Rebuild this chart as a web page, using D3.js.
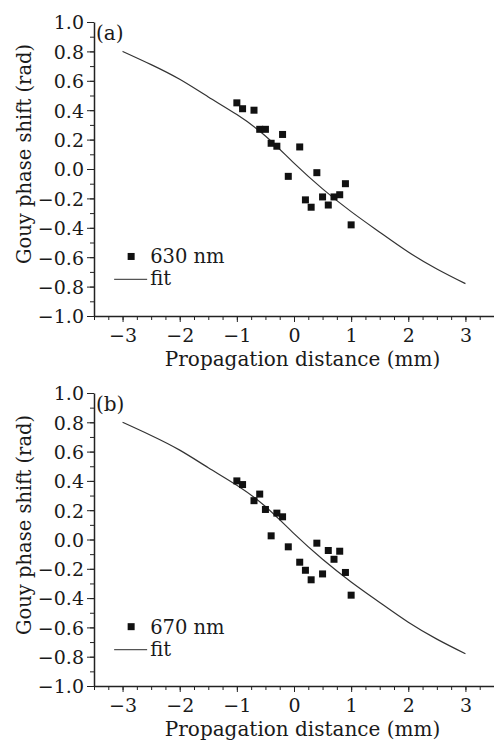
<!DOCTYPE html>
<html>
<head>
<meta charset="utf-8">
<script src="https://cdn.jsdelivr.net/npm/d3@7"></script>
<style>
  body { margin: 0; background: #fff; }
  text { font-family: "DejaVu Serif", "Liberation Serif", serif; fill: #1a1a1a; }
  .axis path, .axis line { stroke: #222; }
</style>
</head>
<body>
<svg id="chart" width="494" height="740"></svg>
<script>
// tick values
const xTicks = [-3, -2, -1, 0, 1, 2, 3];
const yTicks = [-1.0, -0.8, -0.6, -0.4, -0.2, 0.0, 0.2, 0.4, 0.6, 0.8, 1.0];

// panel (a) 630 nm measurements
const xA = [-1.0, -0.9, -0.7, -0.6, -0.5, -0.4, -0.3, -0.2, -0.1, 0.1, 0.2, 0.3, 0.4, 0.5, 0.6, 0.7, 0.8, 0.9, 1.0];
const yA = [0.45, 0.41, 0.40, 0.27, 0.27, 0.175, 0.155, 0.235, -0.05, 0.15, -0.21, -0.26, -0.025, -0.19, -0.245, -0.19, -0.175, -0.10, -0.38];

// panel (b) 670 nm measurements
const xB = [-1.0, -0.9, -0.7, -0.6, -0.5, -0.4, -0.3, -0.2, -0.1, 0.1, 0.2, 0.3, 0.4, 0.5, 0.6, 0.7, 0.8, 0.9, 1.0];
const yB = [0.40, 0.375, 0.265, 0.31, 0.205, 0.025, 0.18, 0.155, -0.05, -0.155, -0.21, -0.275, -0.025, -0.235, -0.075, -0.135, -0.08, -0.225, -0.38];

// fit curve
const fitX = [-3, -2.5, -2, -1.5, -1, -0.5, 0, 0.5, 1, 1.5, 2, 2.5, 3];
const fitY = [0.80, 0.71, 0.61, 0.49, 0.37, 0.225, 0.04, -0.135, -0.29, -0.43, -0.565, -0.68, -0.78];

const svg = d3.select("#chart");

function drawPanel(top, height, xs, ys, tag, legendName) {
    const left = 94, width = 400;
    const g = svg.append("g").attr("transform", `translate(${left}, ${top})`);

    const x = d3.scaleLinear().domain([-3.5, 3.5]).range([0, width]);
    const y = d3.scaleLinear().domain([-1, 1]).range([height, 0]);

    const fmt = d => (d < 0 ? "\u2212" : "") + Math.abs(d).toFixed(1);

    // minor ticks
    g.append("g")
        .attr("class", "axis")
        .call(d3.axisLeft(y).tickValues(d3.range(-10, 11).map(d => d / 10)).tickSize(4).tickFormat("").tickSizeOuter(0))
        .call(s => s.select(".domain").remove());
    g.append("g")
        .attr("class", "axis")
        .attr("transform", `translate(0, ${height})`)
        .call(d3.axisBottom(x).tickValues(d3.range(-14, 15).map(d => d / 4)).tickSize(4).tickFormat("").tickSizeOuter(0))
        .call(s => s.select(".domain").remove());

    // major ticks
    const ya = g.append("g")
        .attr("class", "axis")
        .call(d3.axisLeft(y).tickValues(yTicks).tickSize(7).tickPadding(3).tickFormat(fmt).tickSizeOuter(0));
    ya.select(".domain").attr("stroke-width", 1.5);
    ya.selectAll("text").style("font-size", "19px").attr("dy", "0.36em");

    const xa = g.append("g")
        .attr("class", "axis")
        .attr("transform", `translate(0, ${height})`)
        .call(d3.axisBottom(x).tickValues(xTicks).tickSize(6).tickPadding(7).tickFormat(d => (d < 0 ? "\u2212" : "") + Math.abs(d)).tickSizeOuter(0));
    xa.select(".domain").attr("stroke-width", 1.5);
    xa.selectAll("text").style("font-size", "19px");

    // axis titles
    g.append("text")
        .attr("x", (x(0.15)))
        .attr("y", height + 50)
        .attr("text-anchor", "middle")
        .style("font-size", "20px")
        .text("Propagation distance (mm)");

    g.append("text")
        .attr("transform", `translate(${31 - left}, ${154 - 22}) rotate(-90)`)
        .attr("text-anchor", "middle")
        .style("font-size", "19.5px")
        .text("Gouy phase shift (rad)");

    // panel tag
    g.append("text")
        .attr("x", 2)
        .attr("y", 18)
        .style("font-size", "20px")
        .text(tag);

    // fit curve
    const line = d3.line()
        .x((d, i) => x(fitX[i]))
        .y(d => y(d))
        .curve(d3.curveNatural);
    g.append("path")
        .datum(fitY)
        .attr("d", line)
        .attr("fill", "none")
        .attr("stroke", "#333")
        .attr("stroke-width", 1.2);

    // data squares
    const s = 7;
    g.selectAll(".pt")
        .data(xs)
        .enter()
        .append("rect")
        .attr("class", "pt")
        .attr("x", (d) => x(d) - s / 2)
        .attr("y", (d, i) => y(ys[i]) - s / 2)
        .attr("width", s)
        .attr("height", s)
        .attr("fill", "#111");

    // legend
    const lx = x(-2.85), ly = y(-0.595);
    g.append("rect")
        .attr("x", lx - 3.5).attr("y", ly - 3.5)
        .attr("width", 7).attr("height", 7)
        .attr("fill", "#111");
    g.append("text")
        .attr("x", lx + 19).attr("y", ly + 7)
        .style("font-size", "19.5px")
        .text(legendName);
    g.append("line")
        .attr("x1", lx - 17).attr("x2", lx + 16)
        .attr("y1", ly + 23).attr("y2", ly + 23)
        .attr("stroke", "#555")
        .attr("stroke-width", 1.2);
    g.append("text")
        .attr("x", lx + 19).attr("y", ly + 29)
        .style("font-size", "19.5px")
        .text("fit");
}

drawPanel(22, 294, xA, yA, "(a)", "630 nm");
drawPanel(393, 293, xB, yB, "(b)", "670 nm");
</script>
</body>
</html>
